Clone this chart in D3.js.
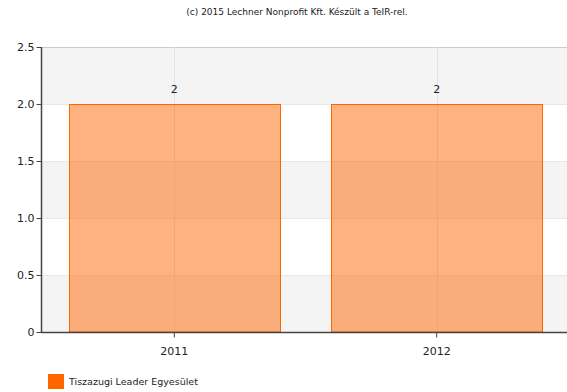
<!DOCTYPE html>
<html><head><meta charset="utf-8">
<script src="https://cdn.jsdelivr.net/npm/d3@7"></script>
<style>body{margin:0;background:#fff;}svg{display:block;font-family:"DejaVu Sans",Verdana,sans-serif;}</style>
</head><body>
<svg id="chart" width="567" height="392"></svg>
<script>
const categories = ["2011", "2012"];
const values = [2, 2];
const seriesName = "Tiszazugi Leader Egyesület";
const yTicks = [0, 0.5, 1.0, 1.5, 2.0, 2.5];
const yTickLabels = ["0", "0.5", "1.0", "1.5", "2.0", "2.5"];
const title = "(c) 2015 Lechner Nonprofit Kft. Készült a TeIR-rel.";

const svg = d3.select("#chart");
const m = {left: 41, right: 567, top: 47, bottom: 332};
const x = d3.scaleBand().domain(categories).range([m.left + 1.5, m.right + 1.5]).paddingInner(0.195).paddingOuter(0.1);
const y = d3.scaleLinear().domain([0, 2.5]).range([m.bottom, m.top]);

// alternating bands
for (let i = 0; i < yTicks.length - 1; i++) {
  svg.append("rect").attr("x", m.left).attr("width", m.right - m.left)
    .attr("y", y(yTicks[i+1])).attr("height", y(yTicks[i]) - y(yTicks[i+1]))
    .attr("fill", i % 2 === 0 ? "#f4f4f4" : "#ffffff");
}
// horizontal grid lines
svg.selectAll(".hg").data(yTicks).enter().append("line")
  .attr("x1", m.left).attr("x2", m.right)
  .attr("y1", d => Math.round(y(d)) + 0.5).attr("y2", d => Math.round(y(d)) + 0.5)
  .attr("stroke", d => d === 2.5 ? "#cccccc" : "#e8e8e8");
// vertical grid lines
svg.selectAll(".vg").data(categories).enter().append("line")
  .attr("x1", d => Math.round(x(d) + x.bandwidth()/2) + 0.5).attr("x2", d => Math.round(x(d) + x.bandwidth()/2) + 0.5)
  .attr("y1", m.top).attr("y2", m.bottom).attr("stroke", "#e4e4e4");

// bars
svg.selectAll(".bar").data(values).enter().append("rect")
  .attr("x", (d, i) => Math.round(x(categories[i])) + 0.5)
  .attr("width", Math.round(x.bandwidth()))
  .attr("y", d => Math.round(y(d)) + 0.5)
  .attr("height", d => y(0) - Math.round(y(d)) - 0.5)
  .attr("fill", "#ff6600").attr("fill-opacity", 0.5)
  .attr("stroke", "#ff6600").attr("stroke-width", 1);

// value labels
svg.selectAll(".vl").data(values).enter().append("text")
  .attr("x", (d, i) => x(categories[i]) + x.bandwidth()/2)
  .attr("y", d => y(d) - 11)
  .attr("text-anchor", "middle").attr("font-size", 11).attr("fill", "#222")
  .text(d => d);

// y axis
const yAxis = d3.axisLeft(y).tickValues(yTicks).tickFormat((d, i) => yTickLabels[i]).tickSize(5).tickPadding(2);
const gy = svg.append("g").attr("transform", `translate(${m.left + 0.5},0)`).call(yAxis);
gy.select(".domain").attr("stroke", "#444").attr("d", `M0,${m.top}V${m.bottom}`).attr("stroke-width", 1.5);
gy.selectAll(".tick line").attr("stroke", "#444");
gy.selectAll(".tick text").attr("font-size", 11).attr("fill", "#222").attr("font-family", "DejaVu Sans, Verdana, sans-serif");

// x axis
const xAxis = d3.axisBottom(x).tickSize(5).tickPadding(10);
const gx = svg.append("g").attr("transform", `translate(0,${m.bottom + 0.5})`).call(xAxis);
gx.select(".domain").attr("stroke", "#444").attr("d", `M${m.left},0H${m.right}`).attr("stroke-width", 1.5);
gx.selectAll(".tick line").attr("stroke", "#444");
gx.selectAll(".tick text").attr("font-size", 11).attr("fill", "#222").attr("font-family", "DejaVu Sans, Verdana, sans-serif");

// title
svg.append("text").attr("x", 297).attr("y", 15).attr("text-anchor", "middle")
  .attr("font-size", 9).attr("fill", "#222").text(title);

// legend
svg.append("rect").attr("x", 48).attr("y", 374).attr("width", 16).attr("height", 15).attr("fill", "#ff6600");
svg.append("text").attr("x", 69).attr("y", 385).attr("font-size", 9.5).attr("fill", "#222").text(seriesName);
</script>
</body></html>
